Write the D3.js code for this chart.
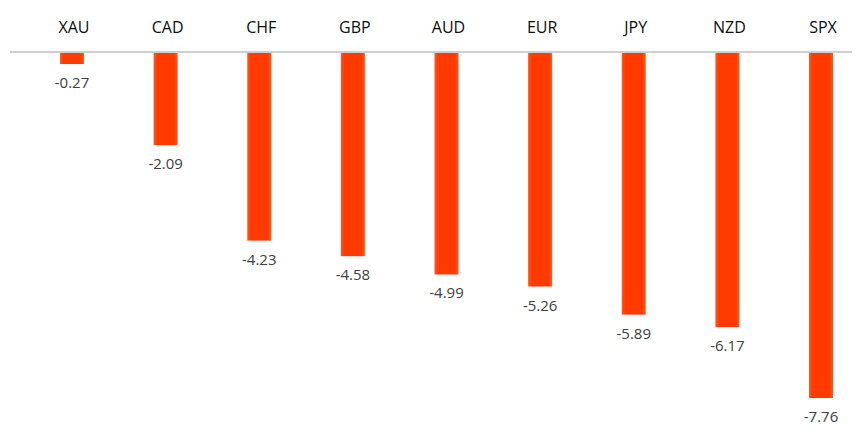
<!DOCTYPE html>
<html><head><meta charset="utf-8">
<script src="https://cdn.jsdelivr.net/npm/d3@7"></script>
<style>body{margin:0;background:#fff;} svg{display:block;}</style>
</head><body>
<svg id="c" width="859" height="443"></svg>
<script>
const categories = ["XAU","CAD","CHF","GBP","AUD","EUR","JPY","NZD","SPX"];
const values = [-0.27,-2.09,-4.23,-4.58,-4.99,-5.26,-5.89,-6.17,-7.76];

const svg = d3.select("#c");
const defs = svg.append("defs");
const g = defs.append("linearGradient").attr("id","bg").attr("x1","0").attr("x2","1").attr("y1","0").attr("y2","0");
g.append("stop").attr("offset","0").attr("stop-color","#ff5a1e");
g.append("stop").attr("offset","0.15").attr("stop-color","#ff3a00");
g.append("stop").attr("offset","0.85").attr("stop-color","#ff3a00");
g.append("stop").attr("offset","1").attr("stop-color","#ff5a1e");

const x = d3.scalePoint().domain(categories).range([72, 821]);
const y = d3.scaleLinear().domain([0, -7.76]).range([52, 398]);
const bw = 24;

svg.append("line").attr("x1",10).attr("x2",852).attr("y1",y(0)).attr("y2",y(0))
  .attr("stroke","#bfbfbf").attr("stroke-width",1.5);

svg.selectAll("rect.bar").data(values).enter().append("rect")
  .attr("x",(d,i)=>x(categories[i])-bw/2).attr("width",bw)
  .attr("y",y(0)+1).attr("height",d=>y(d)-y(0)-1)
  .attr("fill","url(#bg)");

svg.selectAll("text.cat").data(categories).enter().append("text")
  .attr("x",d=>x(d)+2).attr("y",33).attr("text-anchor","middle")
  .attr("font-family","Open Sans, sans-serif").attr("font-size",16).attr("fill","#0d0d0d")
  .text(d=>d);

svg.selectAll("text.val").data(values).enter().append("text")
  .attr("x",(d,i)=>x(categories[i])).attr("y",d=>y(d)+24).attr("text-anchor","middle")
  .attr("font-family","Open Sans, sans-serif").attr("font-size",15).attr("fill","#404040")
  .text(d=>d.toFixed(2));
</script>
</body></html>
